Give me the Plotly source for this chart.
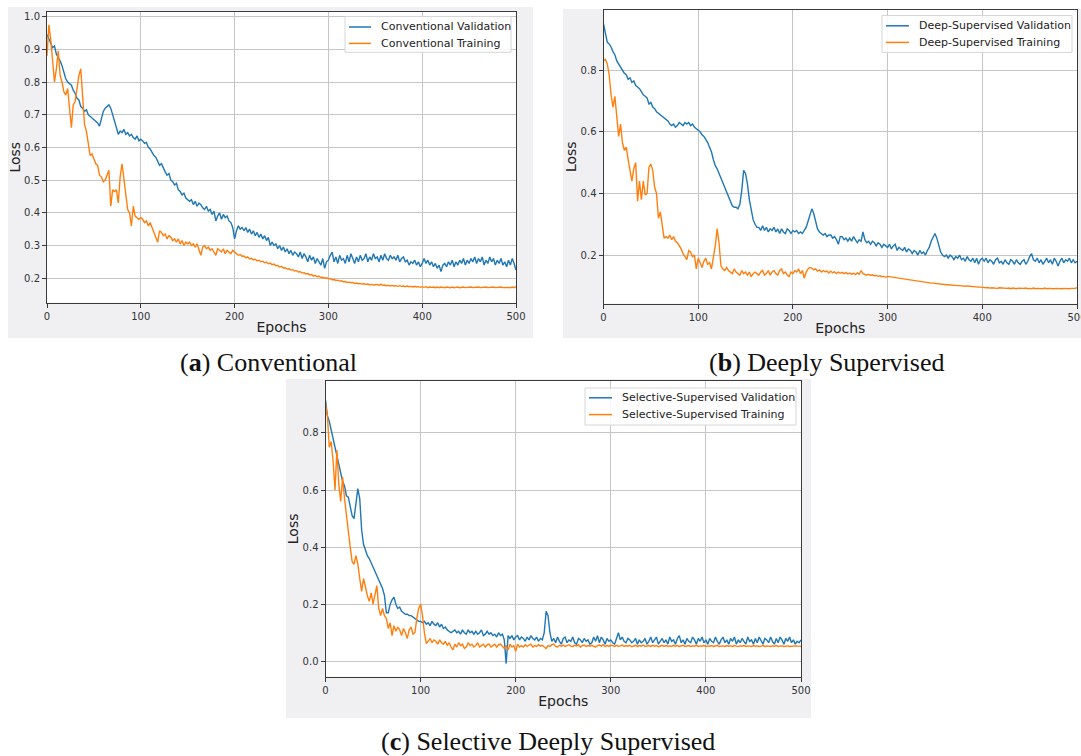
import plotly.graph_objects as go

W, H = 1081, 756

# ---------------- data (loss per epoch, sampled every 2 epochs) ----------------
epochs = list(range(0, 501, 2))

conv_val = [
    0.945, 0.93, 0.92, 0.905, 0.91, 0.885, 0.875, 0.865, 0.85, 0.825,
    0.81, 0.80, 0.795, 0.79, 0.775, 0.765, 0.75, 0.745, 0.725, 0.72,
    0.71, 0.715, 0.70, 0.695, 0.69, 0.685, 0.68, 0.675, 0.665, 0.69,
    0.71, 0.72, 0.725, 0.73, 0.72, 0.70, 0.675, 0.655, 0.64, 0.65,
    0.645, 0.655, 0.64, 0.645, 0.635, 0.64, 0.63, 0.625, 0.635, 0.62,
    0.625,
    0.62, 0.612, 0.615, 0.60, 0.595, 0.585, 0.575, 0.57, 0.555, 0.545,
    0.55, 0.535, 0.525, 0.515, 0.52, 0.50, 0.495, 0.485, 0.49, 0.47,
    0.465, 0.455, 0.46, 0.445, 0.44, 0.435, 0.44, 0.425, 0.435, 0.42,
    0.43, 0.425, 0.415, 0.41, 0.42, 0.405, 0.41, 0.395, 0.405, 0.375,
    0.39, 0.40, 0.38, 0.395, 0.385, 0.39, 0.375, 0.37, 0.355, 0.32,
    0.345, 0.36, 0.35, 0.355, 0.345, 0.355, 0.34, 0.35, 0.335, 0.345,
    0.33, 0.34, 0.325, 0.335, 0.32, 0.33, 0.315, 0.325, 0.30, 0.31,
    0.30, 0.305, 0.29, 0.30, 0.285, 0.295, 0.28, 0.29, 0.275, 0.285,
    0.27, 0.28, 0.275, 0.265, 0.28, 0.26, 0.275, 0.265, 0.25, 0.27,
    0.255, 0.265, 0.245, 0.26, 0.25, 0.24, 0.26, 0.23, 0.25, 0.255,
    0.27, 0.28, 0.25, 0.265, 0.245, 0.27, 0.255, 0.26, 0.245, 0.27,
    0.25, 0.275, 0.26, 0.245, 0.265, 0.25, 0.27, 0.255, 0.26, 0.275,
    0.25, 0.265, 0.255, 0.275, 0.26, 0.265, 0.25, 0.27, 0.255, 0.275,
    0.26, 0.255, 0.27, 0.26, 0.265, 0.255, 0.27, 0.25, 0.26, 0.265,
    0.25, 0.255, 0.24, 0.25, 0.245, 0.255, 0.24, 0.25, 0.235, 0.245,
    0.26, 0.245, 0.255, 0.24, 0.25, 0.235, 0.245, 0.23, 0.24, 0.22,
    0.24, 0.245, 0.235, 0.25, 0.24, 0.255, 0.235, 0.25, 0.24, 0.255,
    0.245, 0.26, 0.24, 0.255, 0.245, 0.26, 0.25, 0.265, 0.245, 0.26,
    0.25, 0.265, 0.24, 0.255, 0.245, 0.265, 0.25, 0.26, 0.24, 0.255,
    0.245, 0.26, 0.24, 0.25, 0.235, 0.255, 0.24, 0.26, 0.245, 0.225,
]
conv_train = [
    0.88, 0.975, 0.93, 0.86, 0.80, 0.84, 0.895, 0.82, 0.80, 0.77,
    0.76, 0.78, 0.72, 0.66, 0.73, 0.74, 0.78, 0.82, 0.84, 0.76,
    0.67, 0.65, 0.61, 0.575, 0.58, 0.565, 0.55, 0.545, 0.515, 0.51,
    0.495, 0.50, 0.515, 0.53, 0.42, 0.47, 0.465, 0.47, 0.43, 0.51,
    0.55, 0.50, 0.45, 0.41, 0.40, 0.36, 0.42, 0.39, 0.385, 0.38,
    0.385,
    0.38, 0.37, 0.375, 0.36, 0.37, 0.355, 0.34, 0.33, 0.31, 0.345,
    0.34, 0.33, 0.335, 0.32, 0.33, 0.325, 0.315, 0.32, 0.31, 0.32,
    0.305, 0.315, 0.30, 0.31, 0.305, 0.31, 0.30, 0.305, 0.295, 0.305,
    0.29, 0.27, 0.295, 0.30, 0.29, 0.295, 0.285, 0.29, 0.28, 0.27,
    0.29, 0.285, 0.28, 0.29, 0.275, 0.285, 0.28, 0.275, 0.285, 0.28,
    0.277, 0.27, 0.272, 0.267, 0.268, 0.262, 0.265, 0.259, 0.261, 0.256,
    0.258, 0.253, 0.255, 0.25, 0.252, 0.247, 0.249, 0.244, 0.246, 0.241,
    0.243, 0.238, 0.239, 0.234, 0.236, 0.231, 0.232, 0.228, 0.229, 0.225,
    0.226, 0.222, 0.223, 0.219, 0.22, 0.216, 0.217, 0.213, 0.214, 0.21,
    0.211, 0.207, 0.208, 0.205, 0.206, 0.202, 0.203, 0.2, 0.201, 0.198,
    0.199, 0.195, 0.196, 0.193, 0.194, 0.191, 0.192, 0.189, 0.19, 0.187,
    0.188, 0.186, 0.187, 0.184, 0.185, 0.183, 0.184, 0.182, 0.183, 0.181,
    0.182, 0.18, 0.181, 0.179, 0.18, 0.181, 0.178, 0.182, 0.178, 0.179,
    0.177, 0.178, 0.176, 0.178, 0.176, 0.177, 0.175, 0.177, 0.175, 0.176,
    0.174, 0.176, 0.174, 0.175, 0.173, 0.175, 0.173, 0.174, 0.172, 0.174,
    0.172, 0.174, 0.171, 0.173, 0.172, 0.173, 0.171, 0.173, 0.171, 0.173,
    0.172, 0.171, 0.173, 0.172, 0.171, 0.173, 0.171, 0.172, 0.173, 0.171,
    0.172, 0.173, 0.171, 0.172, 0.171, 0.173, 0.171, 0.172, 0.171, 0.173,
    0.171, 0.172, 0.171, 0.173, 0.171, 0.172, 0.171, 0.173, 0.171, 0.172,
    0.171, 0.173, 0.171, 0.172, 0.171, 0.172, 0.171, 0.173, 0.171, 0.174,
]
deep_val = [
    0.95, 0.92, 0.89, 0.885, 0.875, 0.86, 0.85, 0.83, 0.82, 0.81,
    0.80, 0.79, 0.785, 0.77, 0.775, 0.76, 0.765, 0.75, 0.745, 0.74,
    0.73, 0.72, 0.715, 0.71, 0.69, 0.695, 0.68, 0.675, 0.665, 0.66,
    0.655, 0.65, 0.645, 0.64, 0.635, 0.625, 0.62, 0.625, 0.615, 0.62,
    0.63, 0.625, 0.62, 0.63, 0.625, 0.63, 0.62, 0.625, 0.615, 0.61,
    0.605,
    0.60, 0.59, 0.585, 0.575, 0.565, 0.55, 0.535, 0.51, 0.49, 0.48,
    0.465, 0.445, 0.435, 0.42, 0.405, 0.39, 0.375, 0.36, 0.355, 0.355,
    0.35, 0.365, 0.41, 0.475, 0.465, 0.43, 0.38, 0.34, 0.315, 0.30,
    0.29, 0.29, 0.28, 0.295, 0.28, 0.29, 0.275, 0.285, 0.28, 0.29,
    0.275, 0.285, 0.27, 0.285, 0.275, 0.27, 0.285, 0.28, 0.27, 0.28,
    0.275, 0.28, 0.27, 0.275, 0.27, 0.28, 0.29, 0.31, 0.335, 0.35,
    0.335, 0.31, 0.285, 0.275, 0.27, 0.265, 0.27, 0.26, 0.265, 0.265,
    0.255, 0.26, 0.25, 0.235, 0.26, 0.26, 0.25, 0.255, 0.245, 0.255,
    0.245, 0.26, 0.25, 0.24, 0.25, 0.245, 0.275, 0.25, 0.24, 0.245,
    0.235, 0.245, 0.24, 0.23, 0.24, 0.235, 0.225, 0.235, 0.23, 0.225,
    0.235, 0.22, 0.23, 0.235, 0.215, 0.225, 0.22, 0.215, 0.225, 0.21,
    0.22, 0.215, 0.205, 0.215, 0.21, 0.20, 0.215, 0.205, 0.21, 0.20,
    0.215, 0.225, 0.245, 0.26, 0.27, 0.255, 0.23, 0.21, 0.20, 0.195,
    0.20, 0.19, 0.20, 0.195, 0.185, 0.195, 0.19, 0.20, 0.185, 0.19,
    0.18, 0.195, 0.185, 0.18, 0.19, 0.175, 0.19, 0.17, 0.185, 0.19,
    0.18, 0.19, 0.175, 0.185, 0.18, 0.17, 0.185, 0.19, 0.175, 0.18,
    0.17, 0.185, 0.175, 0.17, 0.185, 0.18, 0.17, 0.185, 0.175, 0.17,
    0.18, 0.185, 0.17, 0.18, 0.195, 0.205, 0.185, 0.18, 0.19, 0.175,
    0.185, 0.17, 0.18, 0.19, 0.175, 0.185, 0.17, 0.19, 0.18, 0.165,
    0.18, 0.19, 0.175, 0.185, 0.18, 0.19, 0.175, 0.185, 0.175, 0.18,
]
deep_train = [
    0.83, 0.835, 0.82, 0.785, 0.72, 0.68, 0.715, 0.64, 0.585, 0.625,
    0.565, 0.54, 0.55, 0.51, 0.475, 0.44, 0.48, 0.50, 0.375, 0.44,
    0.38, 0.44, 0.395, 0.40, 0.485, 0.495, 0.475, 0.42, 0.40, 0.32,
    0.34, 0.30, 0.255, 0.26, 0.255, 0.265, 0.25, 0.26, 0.245, 0.24,
    0.23, 0.22, 0.205, 0.195, 0.185, 0.215, 0.21, 0.195, 0.20, 0.155,
    0.19,
    0.175, 0.16, 0.18, 0.19, 0.17, 0.175, 0.155, 0.19, 0.23, 0.285,
    0.24, 0.165, 0.155, 0.15, 0.16, 0.15, 0.145, 0.14, 0.155, 0.145,
    0.14, 0.135, 0.15, 0.14, 0.145, 0.135, 0.145, 0.13, 0.14, 0.145,
    0.14, 0.135, 0.145, 0.15, 0.135, 0.14, 0.15, 0.135, 0.145, 0.15,
    0.14, 0.135, 0.15, 0.155, 0.14, 0.145, 0.135, 0.13, 0.145, 0.14,
    0.15, 0.145, 0.155, 0.14, 0.15, 0.125, 0.145, 0.155, 0.16, 0.158,
    0.152, 0.155, 0.148, 0.152, 0.145, 0.15, 0.146, 0.148, 0.142, 0.148,
    0.143, 0.146, 0.14, 0.145, 0.141, 0.144, 0.14, 0.143, 0.139, 0.142,
    0.138, 0.141, 0.137, 0.142, 0.138, 0.15, 0.14, 0.137, 0.135, 0.138,
    0.134, 0.136, 0.133, 0.134, 0.131, 0.133, 0.13, 0.131, 0.128, 0.131,
    0.13, 0.128, 0.127, 0.126, 0.125, 0.125, 0.123, 0.122, 0.121, 0.121,
    0.119, 0.119, 0.118, 0.117, 0.116, 0.116, 0.114, 0.114, 0.112, 0.112,
    0.111, 0.11, 0.109, 0.109, 0.108, 0.107, 0.106, 0.106, 0.105, 0.105,
    0.104, 0.104, 0.103, 0.103, 0.102, 0.102, 0.101, 0.101, 0.1, 0.1,
    0.099, 0.1, 0.099, 0.098, 0.098, 0.097, 0.097, 0.096, 0.096, 0.095,
    0.095, 0.094, 0.095, 0.093, 0.094, 0.093, 0.094, 0.092, 0.094, 0.093,
    0.092, 0.093, 0.092, 0.093, 0.091, 0.093, 0.092, 0.091, 0.093, 0.092,
    0.091, 0.092, 0.093, 0.091, 0.092, 0.091, 0.093, 0.091, 0.092, 0.091,
    0.092, 0.091, 0.093, 0.091, 0.092, 0.091, 0.092, 0.091, 0.092, 0.091,
    0.092, 0.091, 0.092, 0.091, 0.092, 0.091, 0.092, 0.091, 0.092, 0.094,
]
sel_val = [
    0.915, 0.86, 0.84, 0.81, 0.775, 0.745, 0.725, 0.695, 0.66, 0.63,
    0.615, 0.58, 0.575, 0.535, 0.51, 0.50, 0.56, 0.605, 0.57, 0.46,
    0.41, 0.385, 0.37, 0.36, 0.345, 0.33, 0.31, 0.30, 0.28, 0.27,
    0.255, 0.23, 0.17, 0.17, 0.20, 0.215, 0.225, 0.20, 0.185, 0.19,
    0.175, 0.17, 0.165, 0.165, 0.16, 0.16, 0.155, 0.15, 0.145, 0.14,
    0.14,
    0.135, 0.14, 0.13, 0.135, 0.125, 0.14, 0.13, 0.125, 0.135, 0.12,
    0.13, 0.115, 0.12, 0.11, 0.105, 0.10, 0.105, 0.11, 0.10, 0.105,
    0.095, 0.11, 0.10, 0.095, 0.11, 0.10, 0.105, 0.095, 0.105, 0.095,
    0.10, 0.11, 0.09, 0.095, 0.105, 0.095, 0.10, 0.09, 0.095, 0.085,
    0.10, 0.09, 0.095, 0.075, -0.008, 0.09, 0.08, 0.09, 0.075, 0.085,
    0.09, 0.075, 0.085, 0.08, 0.07, 0.085, 0.075, 0.09, 0.08, 0.075,
    0.085, 0.07, 0.08, 0.075, 0.10, 0.175, 0.16, 0.10, 0.07, 0.08,
    0.065, 0.085, 0.07, 0.06, 0.08, 0.085, 0.065, 0.075, 0.07, 0.085,
    0.065, 0.06, 0.08, 0.075, 0.065, 0.08, 0.07, 0.075, 0.06, 0.065,
    0.085, 0.07, 0.09, 0.065, 0.085, 0.075, 0.06, 0.08, 0.07, 0.075,
    0.065, 0.06, 0.08, 0.10, 0.075, 0.085, 0.07, 0.065, 0.08, 0.075,
    0.065, 0.07, 0.08, 0.06, 0.075, 0.065, 0.07, 0.08, 0.06, 0.07,
    0.085, 0.065, 0.075, 0.085, 0.06, 0.07, 0.08, 0.065, 0.075, 0.06,
    0.085, 0.07, 0.075, 0.06, 0.08, 0.09, 0.065, 0.075, 0.06, 0.08,
    0.07, 0.065, 0.085, 0.075, 0.06, 0.08, 0.07, 0.085, 0.065, 0.075,
    0.06, 0.08, 0.07, 0.065, 0.085, 0.07, 0.06, 0.075, 0.085, 0.065,
    0.075, 0.06, 0.08, 0.07, 0.085, 0.06, 0.075, 0.065, 0.08, 0.07,
    0.06, 0.085, 0.07, 0.075, 0.06, 0.08, 0.065, 0.085, 0.07, 0.06,
    0.08, 0.075, 0.065, 0.085, 0.07, 0.06, 0.08, 0.065, 0.085, 0.075,
    0.06, 0.08, 0.07, 0.085, 0.065, 0.075, 0.06, 0.07, 0.065, 0.075,
]
sel_train = [
    0.90, 0.86, 0.75, 0.77, 0.70, 0.60, 0.74, 0.62, 0.56, 0.645,
    0.57, 0.51, 0.44, 0.40, 0.35, 0.34, 0.37, 0.34, 0.29, 0.245,
    0.29, 0.255, 0.23, 0.21, 0.24, 0.20, 0.23, 0.265, 0.185, 0.16,
    0.185, 0.16, 0.15, 0.115, 0.135, 0.09, 0.125, 0.105, 0.12, 0.11,
    0.09, 0.115, 0.10, 0.08, 0.11, 0.12, 0.095, 0.10, 0.15, 0.185,
    0.20,
    0.16, 0.10, 0.062, 0.07, 0.08, 0.065, 0.075, 0.07, 0.06, 0.075,
    0.065, 0.06, 0.07, 0.055, 0.065, 0.05, 0.04, 0.06, 0.05, 0.065,
    0.055, 0.06, 0.045, 0.05, 0.065, 0.055, 0.06, 0.05, 0.055, 0.065,
    0.05, 0.055, 0.06, 0.05, 0.058, 0.06, 0.05, 0.055, 0.06, 0.05,
    0.058, 0.06, 0.052, 0.045, 0.055, 0.04, 0.06, 0.05, 0.055, 0.035,
    0.06, 0.05, 0.055, 0.05, 0.058, 0.052, 0.057, 0.06, 0.05, 0.055,
    0.052, 0.058, 0.053, 0.056, 0.05, 0.045, 0.055, 0.052, 0.058, 0.06,
    0.052, 0.05, 0.056, 0.053, 0.057, 0.052, 0.055, 0.058, 0.053, 0.052,
    0.056, 0.054, 0.058, 0.05, 0.055, 0.057, 0.052, 0.055, 0.053, 0.056,
    0.052, 0.05, 0.055, 0.057, 0.053, 0.058, 0.052, 0.055, 0.053, 0.056,
    0.055, 0.052, 0.056, 0.053, 0.054, 0.057, 0.052, 0.055, 0.053, 0.056,
    0.051, 0.054, 0.056, 0.052, 0.055, 0.053, 0.057, 0.052, 0.054, 0.055,
    0.052, 0.056, 0.053, 0.055, 0.051, 0.054, 0.056, 0.052, 0.055, 0.053,
    0.054, 0.052, 0.056, 0.053, 0.055, 0.052, 0.054, 0.056, 0.052, 0.053,
    0.055, 0.052, 0.054, 0.053, 0.056, 0.052, 0.054, 0.053, 0.055, 0.052,
    0.054, 0.053, 0.055, 0.052, 0.054, 0.056, 0.052, 0.053, 0.054, 0.052,
    0.055, 0.053, 0.054, 0.052, 0.055, 0.053, 0.052, 0.054, 0.053, 0.055,
    0.052, 0.054, 0.053, 0.052, 0.055, 0.053, 0.054, 0.052, 0.053, 0.055,
    0.052, 0.054, 0.053, 0.052, 0.054, 0.053, 0.055, 0.052, 0.053, 0.054,
    0.052, 0.053, 0.054, 0.052, 0.053, 0.052, 0.054, 0.053, 0.052, 0.053,
]

x_ticks = [0, 100, 200, 300, 400, 500]
yticks_a = [0.2, 0.3, 0.4, 0.5, 0.6, 0.7, 0.8, 0.9, 1.0]
yticks_b = [0.2, 0.4, 0.6, 0.8]
yticks_c = [0.0, 0.2, 0.4, 0.6, 0.8]

names_a = ["Conventional Validation", "Conventional Training"]
names_b = ["Deep-Supervised Validation", "Deep-Supervised Training"]
names_c = ["Selective-Supervised Validation", "Selective-Supervised Training"]
captions = ["(<b>a</b>) Conventional", "(<b>b</b>) Deeply Supervised",
            "(<b>c</b>) Selective Deeply Supervised"]

for s in (conv_val, conv_train, deep_val, deep_train, sel_val, sel_train):
    assert len(s) == len(epochs), (len(s), len(epochs))

BLUE, ORANGE = "#1f77b4", "#ff7f0e"
FONT = "DejaVu Sans"

# ---------------- layout helpers (pixel -> paper) ----------------
def px(x):
    return x / W

def py(y):
    return 1 - y / H

panels = [
    dict(plot=(47, 516, 11.7, 302.7), yr=[0.125, 1.015], yt=yticks_a,
         bg=(8, 533, 7, 338), cap=(268, 362),
         leg_box=(345, 511, 16.5, 52.3), leg_line=(349, 371), leg_text=379,
         leg_rows=(27, 43.4),
         series=(conv_val, conv_train), names=names_a),
    dict(plot=(603.5, 1077, 10, 303.5), yr=[0.043, 0.995], yt=yticks_b,
         bg=(563, 1081, 9, 338), cap=(826, 362),
         leg_box=(882, 1072, 15.5, 52.4), leg_line=(886, 909), leg_text=917,
         leg_rows=(25.8, 42.4),
         series=(deep_val, deep_train), names=names_b),
    dict(plot=(325.5, 801, 381, 676.7), yr=[-0.054, 0.982], yt=yticks_c,
         bg=(286, 811, 379, 718), cap=(548, 741),
         leg_box=(585, 796, 388, 425), leg_line=(589, 612), leg_text=620,
         leg_rows=(397.8, 414.6),
         series=(sel_val, sel_train), names=names_c),
]

fig = go.Figure()
shapes, annotations = [], []
layout = {}

for i, p in enumerate(panels, start=1):
    sfx = "" if i == 1 else str(i)
    for ser, nm, col in zip(p["series"], p["names"], (BLUE, ORANGE)):
        fig.add_trace(go.Scatter(
            x=epochs, y=ser, mode="lines", name=nm,
            line=dict(color=col, width=1.4),
            xaxis=f"x{sfx}", yaxis=f"y{sfx}", showlegend=False,
        ))
    x0, x1, y0, y1 = p["plot"]
    axis_common = dict(
        showline=True, linecolor="#3a3a3a", linewidth=1, mirror=True,
        showgrid=True, gridcolor="#c6c6c6", gridwidth=1,
        ticks="outside", ticklen=4, tickwidth=1, tickcolor="#3a3a3a",
        tickfont=dict(family=FONT, size=10, color="#333333"),
        zeroline=False, automargin=False,
    )
    layout[f"xaxis{sfx}"] = dict(
        axis_common, domain=[px(x0), px(x1)], range=[0, 500],
        tickvals=x_ticks, anchor=f"y{sfx}", ticklabeloverflow="allow",
        title=dict(text="Epochs", font=dict(family=FONT, size=14, color="#222222"),
                   standoff=1),
    )
    layout[f"yaxis{sfx}"] = dict(
        axis_common, domain=[py(y1), py(y0)], range=p["yr"],
        tickvals=p["yt"], tickformat=".1f", anchor=f"x{sfx}",
        title=dict(text="Loss", font=dict(family=FONT, size=14, color="#222222"),
                   standoff=0),
    )
    # figure background panel (gray) and white plotting area on top of it
    bx0, bx1, by0, by1 = p["bg"]
    shapes.append(dict(type="rect", xref="paper", yref="paper",
                       x0=px(bx0), x1=px(bx1), y0=py(by1), y1=py(by0),
                       fillcolor="#f0f0f3", line=dict(width=0), layer="below"))
    shapes.append(dict(type="rect", xref="paper", yref="paper",
                       x0=px(x0), x1=px(x1), y0=py(y1), y1=py(y0),
                       fillcolor="white", line=dict(width=0), layer="below"))
    # legend (drawn as box + line samples + text)
    lb = p["leg_box"]
    shapes.append(dict(type="rect", xref="paper", yref="paper",
                       x0=px(lb[0]), x1=px(lb[1]), y0=py(lb[3]), y1=py(lb[2]),
                       fillcolor="rgba(255,255,255,0.85)",
                       line=dict(color="#d6d6d6", width=1), layer="above"))
    for row_y, nm, col in zip(p["leg_rows"], p["names"], (BLUE, ORANGE)):
        shapes.append(dict(type="line", xref="paper", yref="paper",
                           x0=px(p["leg_line"][0]), x1=px(p["leg_line"][1]),
                           y0=py(row_y), y1=py(row_y),
                           line=dict(color=col, width=1.5), layer="above"))
        annotations.append(dict(text=nm, x=px(p["leg_text"]), y=py(row_y),
                                xref="paper", yref="paper", showarrow=False,
                                xanchor="left", yanchor="middle",
                                font=dict(family=FONT, size=11, color="#222222")))
    cx, cy = p["cap"]
    annotations.append(dict(text=captions[i - 1], x=px(cx), y=py(cy),
                            xref="paper", yref="paper", showarrow=False,
                            xanchor="center", yanchor="middle",
                            font=dict(family="Liberation Serif", size=26, color="#111111")))

fig.update_layout(
    width=W, height=H, margin=dict(l=0, r=0, t=0, b=0),
    paper_bgcolor="white", plot_bgcolor="white",
    shapes=shapes, annotations=annotations, showlegend=False,
    **layout,
)

fig.write_html("out.html", config={"displayModeBar": False},
               post_script="document.body.style.margin='0';document.body.style.overflow='hidden';")
